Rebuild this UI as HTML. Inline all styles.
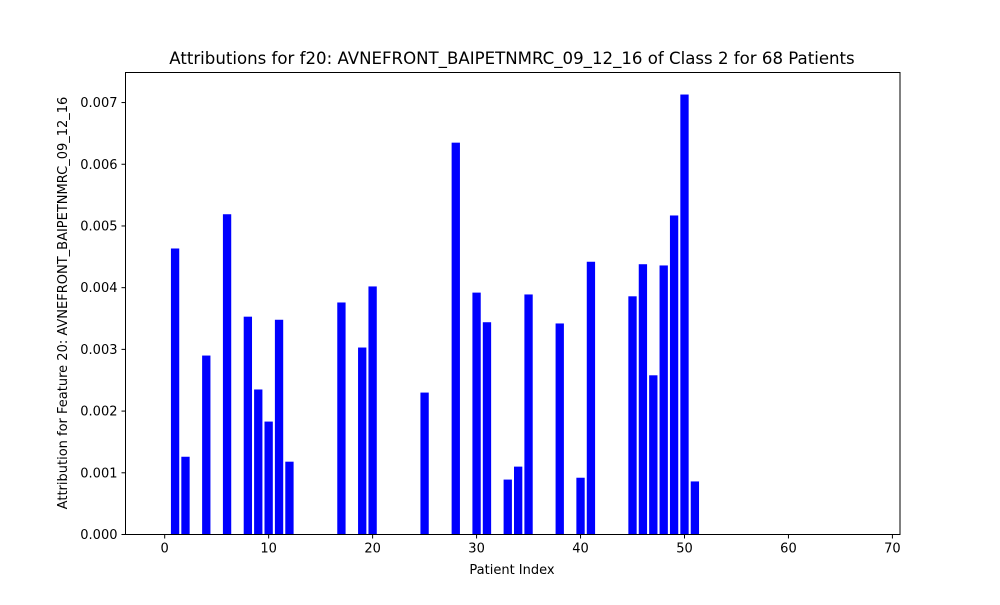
<!DOCTYPE html>
<html><head><meta charset="utf-8"><style>
html,body{margin:0;padding:0;background:#fff;}
svg text{font-family:"DejaVu Sans","Liberation Sans",sans-serif;fill:#000;}
</style></head><body>
<svg id="chart" width="1000" height="600" xmlns="http://www.w3.org/2000/svg">
<text x="512" y="64" font-size="16.6" text-anchor="middle">Attributions for f20: AVNEFRONT_BAIPETNMRC_09_12_16 of Class 2 for 68 Patients</text>
<text x="512" y="574" font-size="13" text-anchor="middle">Patient Index</text>
<text transform="translate(67,303) rotate(-90)" font-size="13" text-anchor="middle">Attribution for Feature 20: AVNEFRONT_BAIPETNMRC_09_12_16</text>
<g id="bars"></g>
<g id="ticks"></g>
<rect x="125.5" y="72.5" width="774.5" height="462" fill="none" stroke="#000" stroke-width="1"/>
</svg>
<script>
const patients = [1,2,4,6,8,9,10,11,12,17,19,20,25,28,30,31,33,34,35,38,40,41,45,46,47,48,49,50,51];
const values = [0.004635,0.00126,0.0029,0.00519,0.00353,0.00235,0.00183,0.00348,0.00118,0.00376,0.00303,0.00402,0.0023,0.00635,0.00392,0.00344,0.00089,0.0011,0.00389,0.00342,0.00092,0.00442,0.00386,0.00438,0.00258,0.00436,0.00517,0.00713,0.00086];
const xTicks = [0,10,20,30,40,50,60,70];
const yTicks = [0,0.001,0.002,0.003,0.004,0.005,0.006,0.007];
const yTickLabels = ["0.000","0.001","0.002","0.003","0.004","0.005","0.006","0.007"];

const L=125.5,R=900,T=72.5,B=534.5;
const xmin=-3.77,xmax=70.73,ymin=0,ymax=0.007487;
const sx=v=>L+(v-xmin)/(xmax-xmin)*(R-L);
const sy=v=>B-(v-ymin)/(ymax-ymin)*(B-T);
const NS="http://www.w3.org/2000/svg";
const bars=document.getElementById('bars'), ticks=document.getElementById('ticks');
patients.forEach((p,i)=>{
  const r=document.createElementNS(NS,'rect');
  const x0=sx(p-0.4), x1=sx(p+0.4);
  r.setAttribute('x',x0);r.setAttribute('width',x1-x0);
  r.setAttribute('y',sy(values[i]));r.setAttribute('height',sy(0)-sy(values[i]));
  r.setAttribute('fill','#0000ff');
  
  
  bars.appendChild(r);
});
xTicks.forEach(t=>{
  const x=sx(t);
  const l=document.createElementNS(NS,'line');
  l.setAttribute('x1',x);l.setAttribute('x2',x);l.setAttribute('y1',B);l.setAttribute('y2',B+4);l.setAttribute('stroke','#000');
  
  
  ticks.appendChild(l);
  const tx=document.createElementNS(NS,'text');
  tx.setAttribute('x',x);tx.setAttribute('y',B+18);tx.setAttribute('font-size','13');tx.setAttribute('text-anchor','middle');
  tx.textContent=t;
  
  
  ticks.appendChild(tx);
});
yTicks.forEach((t,i)=>{
  const y=sy(t);
  const l=document.createElementNS(NS,'line');
  l.setAttribute('x1',L-4);l.setAttribute('x2',L);l.setAttribute('y1',y);l.setAttribute('y2',y);l.setAttribute('stroke','#000');
  
  
  ticks.appendChild(l);
  const tx=document.createElementNS(NS,'text');
  tx.setAttribute('x',L-8);tx.setAttribute('y',y+4.5);tx.setAttribute('font-size','13');tx.setAttribute('text-anchor','end');
  tx.textContent=yTickLabels[i];
  
  
  ticks.appendChild(tx);
});
</script>
</body></html>
